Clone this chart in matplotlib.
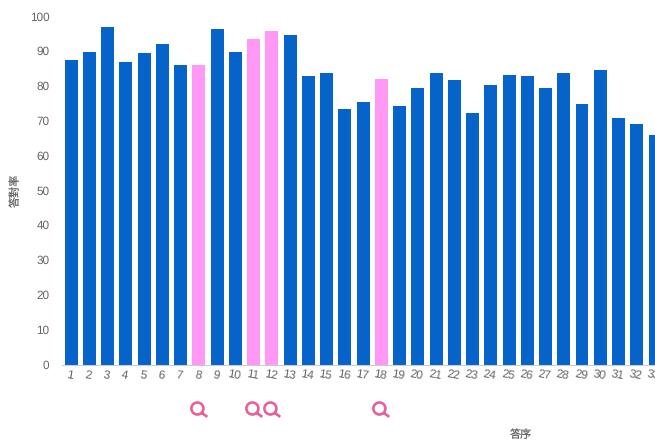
import matplotlib
matplotlib.use("Agg")
import matplotlib.pyplot as plt
from matplotlib.path import Path
from matplotlib.transforms import ScaledTranslation

plt.rcParams['font.family'] = ['Liberation Sans', 'Noto Sans CJK TC', 'DejaVu Sans']
plt.rcParams['text.hinting'] = 'none'

questions = list(range(1, 34))
rates = [87.5, 90, 97, 87, 89.7, 92.2, 86.2, 86.2, 96.5, 90, 93.8, 96, 94.8,
         83, 84, 73.7, 75.5, 82.2, 74.5, 79.5, 84, 82, 72.5, 80.5, 83.2, 83,
         79.5, 84, 75, 84.8, 71, 69.3, 66]
flagged = [8, 11, 12, 18]
y_ticks = list(range(0, 101, 10))
x_title = "答序"
y_title = "答對率"

BLUE = "#0563c9"
PINK = "#ff99f5"
ICON = "#e8609a"
GREY = "#666666"

W, H = 655, 444
fig = plt.figure(figsize=(W / 100, H / 100), dpi=100, facecolor="white")
ax = fig.add_axes([62 / W, (H - 365) / H, (W - 62) / W, 348 / H])

colors = [PINK if q in flagged else BLUE for q in questions]
ax.bar(questions, rates, width=0.71, color=colors, linewidth=0, zorder=2)

ax.set_xlim(0.5, 0.5 + (W - 62) / 18.36)
ax.set_ylim(0, 100)
ax.set_yticks(y_ticks)
ax.set_xticks(questions)
ax.tick_params(axis="y", length=0, labelsize=8.5, labelcolor=GREY, pad=9)
ax.tick_params(axis="x", length=0, labelsize=8.5, labelcolor=GREY, pad=3.5,
               labelrotation=-10)
for lab in ax.get_xticklabels():
    lab.set_ha("center")
    lab.set_rotation_mode("anchor")
nudge_up = ScaledTranslation(0, 0.7 / 72, fig.dpi_scale_trans)
for lab in ax.get_yticklabels():
    lab.set_transform(lab.get_transform() + nudge_up)

for side in ("top", "right", "left"):
    ax.spines[side].set_visible(False)
ax.spines["bottom"].set_color("#cccccc")
ax.spines["bottom"].set_linewidth(0.8)

# magnifier glyph: open ring plus a handle, ring sitting left of the bar centre
ring = Path(Path.unit_circle().vertices + [-0.35, 0], Path.unit_circle().codes)
handle = Path([(0.4, -0.75), (1.3, -1.4)], [Path.MOVETO, Path.LINETO])
glyph = Path.make_compound_path(ring, handle)
ax.plot(flagged, [-12.4] * len(flagged), linestyle="none", marker=glyph,
        markersize=12.1, markerfacecolor="none", markeredgecolor=ICON,
        markeredgewidth=1.9, clip_on=False, zorder=3)

fig.text(521 / W, 1 - 435 / H, x_title, ha="center", va="center",
         fontsize=8, color=GREY)
fig.text(16 / W, 1 - 190 / H, y_title, ha="center", va="center",
         rotation=90, fontsize=8, color=GREY)

fig.savefig("out.png", dpi=100)
